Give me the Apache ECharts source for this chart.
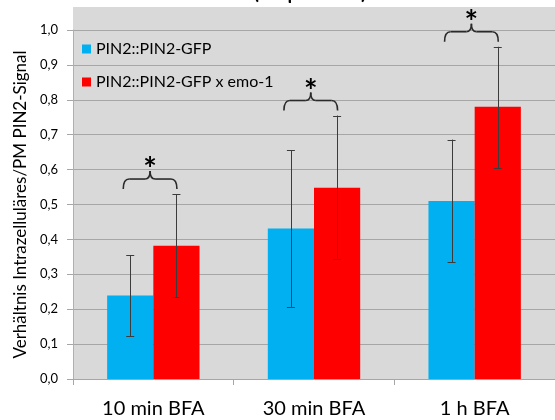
<!DOCTYPE html>
<html><head><meta charset="utf-8">
<script src="https://cdn.jsdelivr.net/npm/echarts@6/dist/echarts.min.js"></script>
<style>html,body{margin:0;padding:0;background:#fff}#c{width:555px;height:420px}</style>
</head><body><div id="c"></div>
<script>
const categories = ['10 min BFA', '30 min BFA', '1 h BFA'];
const seriesNames = ['PIN2::PIN2-GFP', 'PIN2::PIN2-GFP x emo-1'];
const gfpValues = [0.239, 0.431, 0.510];
const gfpErrLow = [0.123, 0.206, 0.334];
const gfpErrHigh = [0.355, 0.655, 0.686];
const emoValues = [0.382, 0.548, 0.780];
const emoErrLow = [0.235, 0.345, 0.605];
const emoErrHigh = [0.530, 0.755, 0.952];
const significance = ['*', '*', '*'];
const titleText = '(50 µM BFA)';
const yAxisTitle = 'Verhältnis Intrazelluläres/PM PIN2-Signal';

const FONT = 'Lato';
const GAP = 0.425;
const chart = echarts.init(document.getElementById('c'), null, {renderer: 'canvas'});

function barW(api) { return api.size([1, 0])[0] * (1 - GAP) / 2; }

function errRender(sign, lows, highs) {
  return function (params, api) {
    const i = api.value(0);
    const w = barW(api);
    const cx = api.coord([i, 0])[0] + sign * w / 2;
    const yl = api.coord([i, lows[i]])[1];
    const yh = api.coord([i, highs[i]])[1];
    const st = {stroke: '#3c3c3c', lineWidth: 1};
    return {type: 'group', children: [
      {type: 'line', shape: {x1: Math.round(cx) + 0.5, y1: yh, x2: Math.round(cx) + 0.5, y2: yl}, style: st},
      {type: 'line', shape: {x1: cx - 4, y1: Math.round(yh) + 0.5, x2: cx + 4, y2: Math.round(yh) + 0.5}, style: st},
      {type: 'line', shape: {x1: cx - 4, y1: Math.round(yl) + 0.5, x2: cx + 4, y2: Math.round(yl) + 0.5}, style: st}
    ]};
  };
}

function braceRender(params, api) {
  const i = api.value(0);
  const w = barW(api);
  const c = api.coord([i, 0])[0];
  const left = c - w / 2 - 7;
  const right = c + w / 2 + 0.5;
  const mid = (left + right) / 2;
  const yR = api.coord([i, emoErrHigh[i]])[1];
  const yb = yR - 5, yh = yR - 15, yt = yR - 23;
  const st = {stroke: '#2a2a2a', lineWidth: 1.6, fill: null};
  return {type: 'group', children: [
    {type: 'bezierCurve', shape: {x1: left, y1: yb, cpx1: left, cpy1: yh, x2: left + 6, y2: yh}, style: st},
    {type: 'line', shape: {x1: left + 6, y1: yh, x2: mid - 5, y2: yh}, style: st},
    {type: 'bezierCurve', shape: {x1: mid - 5, y1: yh, cpx1: mid, cpy1: yh, x2: mid, y2: yt}, style: st},
    {type: 'bezierCurve', shape: {x1: mid, y1: yt, cpx1: mid, cpy1: yh, x2: mid + 5, y2: yh}, style: st},
    {type: 'line', shape: {x1: mid + 5, y1: yh, x2: right - 6, y2: yh}, style: st},
    {type: 'bezierCurve', shape: {x1: right - 6, y1: yh, cpx1: right, cpy1: yh, x2: right, y2: yb}, style: st},
    {type: 'text', style: {x: mid, y: yR - 23, text: significance[i], fontSize: 32, fontWeight: 'bold', fontFamily: FONT, fill: '#000', align: 'center', verticalAlign: 'middle'}}
  ]};
}

const option = {
  animation: false,
  textStyle: {fontFamily: FONT},
  graphic: [
    {type: 'rect', z: -100, shape: {x: 73, y: 7, width: 482, height: 372}, style: {fill: '#d9d9d9'}},
    {type: 'text', z: 10, style: {x: 310, y: -7, text: titleText, fontSize: 20, fontWeight: 'bold', fontFamily: FONT, fill: '#000', align: 'center', verticalAlign: 'middle'}}
  ],
  grid: {left: 73, right: 0, top: 30, bottom: 41, containLabel: false},
  legend: {
    data: seriesNames, orient: 'vertical', left: 77, top: 36,
    icon: 'rect', itemWidth: 9, itemHeight: 9, itemGap: 17,
    textStyle: {fontSize: 16, fontFamily: FONT, color: '#000'}
  },
  xAxis: {
    type: 'category', data: categories,
    axisLine: {lineStyle: {color: '#a6a6a6'}},
    axisTick: {show: true, length: 6, lineStyle: {color: '#a6a6a6'}},
    axisLabel: {fontSize: 20, color: '#000', margin: 20, fontFamily: FONT}
  },
  yAxis: {
    type: 'value', min: 0, max: 1, interval: 0.1,
    name: yAxisTitle, nameLocation: 'middle', nameRotate: 90, nameGap: 40,
    nameTextStyle: {fontSize: 17, color: '#000', fontFamily: FONT},
    axisLine: {show: true, lineStyle: {color: '#b0b0b0'}},
    axisTick: {show: true, length: 6, lineStyle: {color: '#a6a6a6'}},
    splitLine: {lineStyle: {color: '#a6a6a6'}},
    axisLabel: {fontSize: 13, color: '#000', margin: 15, fontFamily: FONT,
      formatter: v => v.toFixed(1).replace('.', ',')}
  },
  series: [
    {name: seriesNames[0], type: 'bar', data: gfpValues, barGap: '0%', barCategoryGap: (GAP * 100) + '%', itemStyle: {color: '#00b0f0'}},
    {name: seriesNames[1], type: 'bar', data: emoValues, barGap: '0%', barCategoryGap: (GAP * 100) + '%', itemStyle: {color: '#ff0000'}},
    {type: 'custom', z: 5, renderItem: errRender(-1, gfpErrLow, gfpErrHigh), data: categories.map((c, i) => [i, gfpErrLow[i], gfpErrHigh[i]])},
    {type: 'custom', z: 5, renderItem: errRender(1, emoErrLow, emoErrHigh), data: categories.map((c, i) => [i, emoErrLow[i], emoErrHigh[i]])},
    {type: 'custom', z: 6, renderItem: braceRender, data: categories.map((c, i) => [i, emoErrHigh[i]])}
  ]
};
chart.setOption(option);
</script></body></html>
